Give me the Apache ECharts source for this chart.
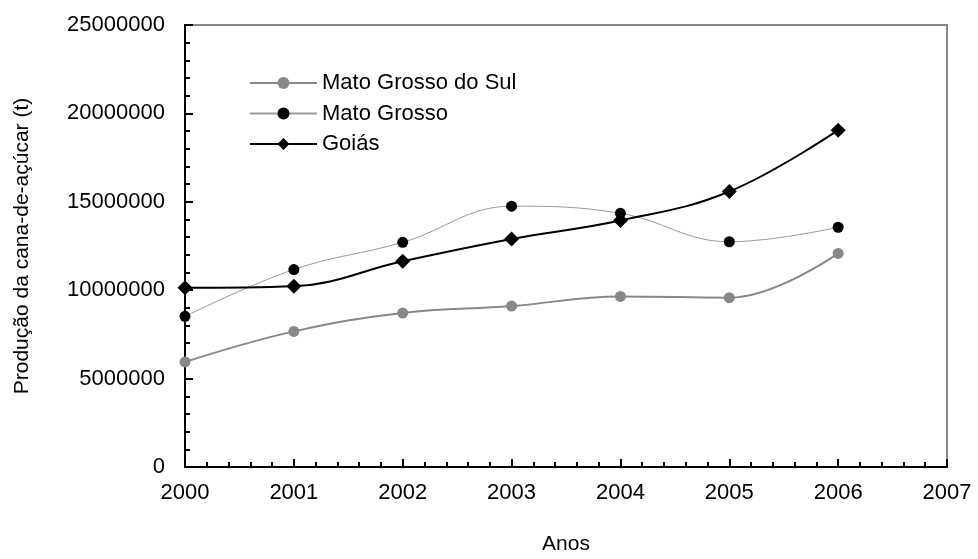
<!DOCTYPE html>
<html>
<head>
<meta charset="utf-8">
<script src="https://cdn.jsdelivr.net/npm/echarts@6/dist/echarts.min.js"></script>
<style>
html,body{margin:0;padding:0;background:#fff;}
#chart{width:978px;height:559px;}
</style>
</head>
<body>
<div id="chart"></div>
<script>
const years = [2000, 2001, 2002, 2003, 2004, 2005, 2006];
const matoGrossoDoSul = [5940000, 7670000, 8710000, 9100000, 9650000, 9580000, 12080000];
const matoGrosso = [8520000, 11170000, 12710000, 14750000, 14350000, 12740000, 13560000];
const goias = [10140000, 10230000, 11640000, 12900000, 13940000, 15580000, 19050000];
const seriesNames = ['Mato Grosso do Sul', 'Mato Grosso', 'Goiás'];

const FONT = 'Liberation Sans, Arial, sans-serif';
const pairs = arr => years.map((y, i) => [y, arr[i]]);

const chart = echarts.init(document.getElementById('chart'), null, {renderer: 'canvas'});
chart.setOption({
  backgroundColor: '#ffffff',
  animation: false,
  textStyle: {fontFamily: FONT, color: '#000'},
  grid: {
    left: 185, top: 25, right: 31, bottom: 92,
    outerBoundsMode: 'none', containLabel: false,
    show: true, borderColor: '#888888', borderWidth: 2, backgroundColor: 'transparent'
  },
  legend: {
    orient: 'vertical',
    left: 244, top: 67,
    itemWidth: 67, itemHeight: 15, itemGap: 8.5,
    textStyle: {fontFamily: FONT, fontSize: 22, color: '#000', lineHeight: 22},
    data: seriesNames
  },
  xAxis: {
    type: 'value', min: 2000, max: 2007, interval: 1,
    name: 'Anos', nameLocation: 'middle', nameGap: 67,
    nameTextStyle: {fontFamily: FONT, fontSize: 21, color: '#000'},
    axisLine: {lineStyle: {color: '#000', width: 2}},
    axisTick: {inside: true, length: 8, lineStyle: {color: '#000', width: 2}},
    minorTick: {show: true, splitNumber: 5, length: 5, lineStyle: {color: '#000', width: 2}},
    axisLabel: {fontFamily: FONT, fontSize: 22, color: '#000', margin: 15, formatter: v => String(v)},
    splitLine: {show: false}
  },
  yAxis: {
    type: 'value', min: 0, max: 25000000, interval: 5000000,
    name: 'Produção da cana-de-açúcar (t)', nameLocation: 'middle', nameGap: 152,
    nameTextStyle: {fontFamily: FONT, fontSize: 21, color: '#000'},
    axisLine: {show: true, lineStyle: {color: '#000', width: 2}},
    axisTick: {show: true, inside: true, length: 8, lineStyle: {color: '#000', width: 2}},
    minorTick: {show: true, splitNumber: 5, length: 5, lineStyle: {color: '#000', width: 2}},
    axisLabel: {fontFamily: FONT, fontSize: 22, color: '#000', margin: 20, formatter: v => String(v)},
    splitLine: {show: false}
  },
  series: [
    {
      name: seriesNames[0], type: 'line', smooth: 0.4,
      data: pairs(matoGrossoDoSul),
      symbol: 'circle', symbolSize: 11,
      itemStyle: {color: '#888888'},
      lineStyle: {color: '#888888', width: 2}
    },
    {
      name: seriesNames[1], type: 'line', smooth: 0.4,
      data: pairs(matoGrosso),
      symbol: 'circle', symbolSize: 11,
      itemStyle: {color: '#000000'},
      lineStyle: {color: '#999999', width: 1}
    },
    {
      name: seriesNames[2], type: 'line', smooth: 0.4,
      data: pairs(goias),
      symbol: 'diamond', symbolSize: 15,
      itemStyle: {color: '#000000'},
      lineStyle: {color: '#000000', width: 2}
    }
  ]
});
</script>
</body>
</html>
